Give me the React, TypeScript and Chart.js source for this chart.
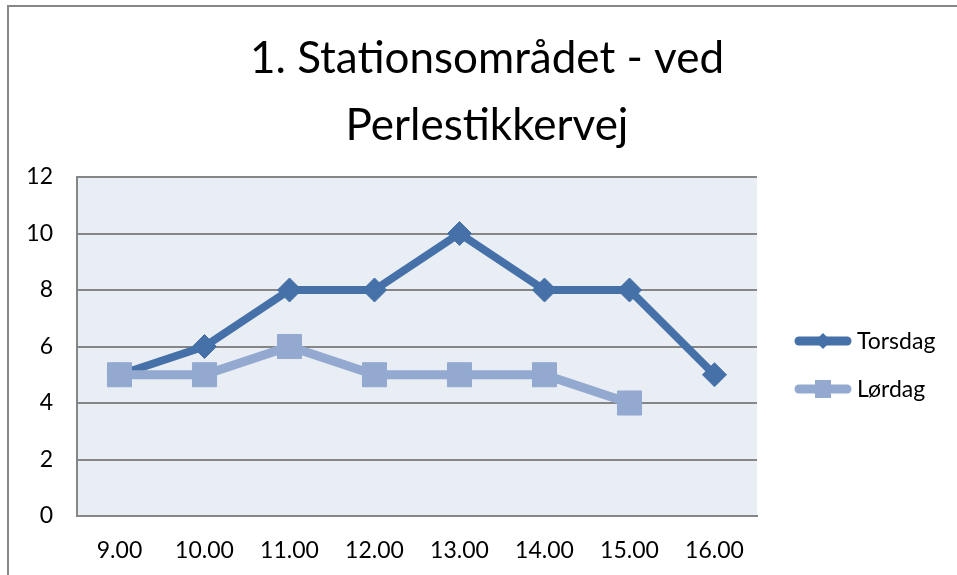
import React, { useEffect, useRef } from "react";
import { Chart, registerables } from "chart.js";

Chart.register(...registerables);

const categories = ["9.00", "10.00", "11.00", "12.00", "13.00", "14.00", "15.00", "16.00"];
const torsdag = [5, 6, 8, 8, 10, 8, 8, 5];
const lordag: (number | null)[] = [5, 5, 6, 5, 5, 5, 4, null];
const seriesNames = ["Torsdag", "Lørdag"];
const titleLines = ["1. Stationsområdet - ved", "Perlestikkervej"];
const yMin = 0;
const yMax = 12;
const yStep = 2;

const FONT = "Lato, 'Open Sans', sans-serif";
const C_TORS = "#4571A8";
const C_LOR = "#93A9D0";
const GRID = "#868686";

export default function App() {
  const ref = useRef<HTMLCanvasElement>(null);

  useEffect(() => {
    if (!ref.current) return;

    const decor = {
      id: "decor",
      beforeDraw(chart: any) {
        const { ctx, chartArea } = chart;
        ctx.save();
        ctx.fillStyle = "#ffffff";
        ctx.fillRect(0, 0, chart.width, chart.height);
        ctx.fillStyle = "#E9EDF4";
        ctx.fillRect(chartArea.left, chartArea.top, chartArea.right - chartArea.left, chartArea.bottom - chartArea.top);
        // outer frame (top and left visible)
        ctx.strokeStyle = "#878787";
        ctx.lineWidth = 2;
        ctx.beginPath();
        ctx.moveTo(8, chart.height + 5);
        ctx.lineTo(8, 6);
        ctx.lineTo(chart.width + 5, 6);
        ctx.stroke();
        // title
        ctx.fillStyle = "#000";
        ctx.font = `44px ${FONT}`;
        ctx.textAlign = "center";
        ctx.textBaseline = "alphabetic";
        titleLines.forEach((t, i) => ctx.fillText(t, 487, 73 + i * 67));
        ctx.restore();
      },
      afterDraw(chart: any) {
        const { ctx, chartArea } = chart;
        ctx.save();
        const x0 = chartArea.right + 38;
        const x1 = x0 + 56;
        const items = [
          { name: seriesNames[0], color: C_TORS, y: 341, shape: "diamond" },
          { name: seriesNames[1], color: C_LOR, y: 389, shape: "square" },
        ];
        items.forEach((it) => {
          ctx.strokeStyle = it.color;
          ctx.lineWidth = 9;
          ctx.lineCap = "round";
          ctx.beginPath();
          ctx.moveTo(x0 + 4, it.y);
          ctx.lineTo(x1 - 4, it.y);
          ctx.stroke();
          ctx.fillStyle = it.color;
          const cx = (x0 + x1) / 2;
          if (it.shape === "diamond") {
            ctx.beginPath();
            ctx.moveTo(cx - 8, it.y);
            ctx.lineTo(cx, it.y - 8);
            ctx.lineTo(cx + 8, it.y);
            ctx.lineTo(cx, it.y + 8);
            ctx.closePath();
            ctx.fill();
          } else {
            ctx.fillRect(cx - 8, it.y - 9, 16, 18);
          }
          ctx.fillStyle = "#000";
          ctx.font = `23px ${FONT}`;
          ctx.textAlign = "left";
          ctx.textBaseline = "middle";
          ctx.fillText(it.name, x1 + 6, it.y + 1);
        });
        ctx.restore();
      },
    };

    const chart = new Chart(ref.current, {
      type: "line",
      data: {
        labels: categories,
        datasets: [
          {
            label: seriesNames[0],
            data: torsdag,
            borderColor: C_TORS,
            backgroundColor: C_TORS,
            borderWidth: 8,
            pointStyle: "rectRot",
            pointRadius: 12,
            pointBorderWidth: 1,
            pointBorderColor: C_TORS,
            pointBackgroundColor: C_TORS,
            borderJoinStyle: "round",
            borderCapStyle: "round",
            tension: 0,
            order: 1,
          },
          {
            label: seriesNames[1],
            data: lordag,
            borderColor: C_LOR,
            backgroundColor: C_LOR,
            borderWidth: 9,
            pointStyle: "rect",
            pointRadius: 17,
            pointBorderWidth: 1,
            pointBorderColor: C_LOR,
            pointBackgroundColor: C_LOR,
            borderJoinStyle: "round",
            borderCapStyle: "round",
            tension: 0,
            spanGaps: false,
            order: 0,
          },
        ],
      },
      options: {
        responsive: false,
        animation: false,
        layout: { padding: { left: 8, right: 200, top: 177, bottom: 0 } },
        plugins: {
          legend: { display: false },
          title: { display: false },
          tooltip: { enabled: false },
        },
        scales: {
          x: {
            offset: true,
            grid: { display: false, drawTicks: false },
            border: { display: true, color: GRID, width: 2 },
            ticks: { color: "#000", font: { family: FONT, size: 23 }, padding: 21, maxRotation: 0 },
            afterFit(scale: any) {
              scale.height = 59;
            },
          },
          y: {
            min: yMin,
            max: yMax,
            grid: { color: GRID, lineWidth: 2, drawTicks: false },
            border: { display: true, color: GRID, width: 2 },
            ticks: { stepSize: yStep, color: "#000", font: { family: FONT, size: 23 }, padding: 24 },
            afterFit(scale: any) {
              scale.width = 69;
            },
          },
        },
      },
      plugins: [decor],
    });

    return () => chart.destroy();
  }, []);

  return (
    <div style={{ position: "absolute", left: 0, top: 0, width: 957, height: 575 }}>
      <canvas ref={ref} width={957} height={575} />
    </div>
  );
}
